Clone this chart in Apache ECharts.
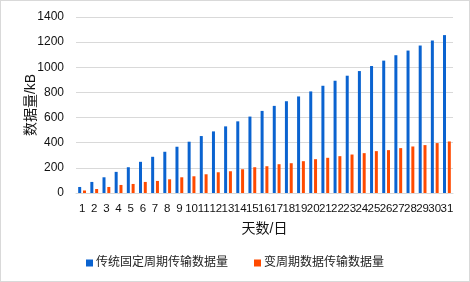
<!DOCTYPE html>
<html><head><meta charset="utf-8">
<script src="https://cdn.jsdelivr.net/npm/echarts@6/dist/echarts.min.js"></script>
<style>
html,body{margin:0;padding:0;background:#fff;}
#c{width:468px;height:280px;border:1px solid #d9d9d9;}
</style></head>
<body><div id="c"></div>
<script>
const days = Array.from({length:31},(_,i)=>String(i+1));
const fixedPeriod = [48,88,125,168,205,248,288,328,368,408,453,490,530,570,608,653,693,730,768,808,853,893,933,970,1010,1053,1096,1133,1173,1213,1256];
const variablePeriod = [20,32,48,64,72,88,96,109,125,133,149,165,173,189,205,213,229,237,253,269,280,293,306,317,333,341,357,370,381,397,410];
const yTicks = [0,200,400,600,800,1000,1200,1400];
const seriesNames = ['传统固定周期传输数据量','变周期数据传输数据量'];
const font = '"Liberation Sans", Arial, "Noto Sans CJK SC", sans-serif';
const chart = echarts.init(document.getElementById('c'));
chart.setOption({
  animation:false,
  textStyle:{fontFamily:font},
  grid:{left:75,right:16,top:16,bottom:88},
  legend:{bottom:7,left:'center',itemWidth:7,itemHeight:7,itemGap:26,itemStyle:{borderWidth:0},icon:'rect',
    textStyle:{fontSize:12,color:'#222',fontFamily:font,padding:[0,0,0,-2]},data:seriesNames},
  xAxis:{type:'category',data:days,name:'天数/日',nameLocation:'middle',nameGap:29,
    nameTextStyle:{fontSize:14,color:'#111',fontFamily:font},
    axisLine:{show:true,lineStyle:{color:'#d9d9d9'}},axisTick:{show:false},
    axisLabel:{interval:0,fontSize:11.5,color:'#111',margin:10,fontFamily:font}},
  yAxis:{type:'value',min:yTicks[0],max:yTicks[yTicks.length-1],interval:200,
    name:'数据量/kB',nameLocation:'middle',nameGap:38,nameRotate:90,nameMoveOverlap:false,
    nameTextStyle:{fontSize:14,color:'#111',fontFamily:font},
    axisLine:{show:false},axisTick:{show:false},
    axisLabel:{fontSize:12,color:'#111',margin:12,fontFamily:font,formatter:v=>String(v)},
    splitLine:{lineStyle:{color:'#d9d9d9',width:1}}},
  series:[
    {name:seriesNames[0],type:'bar',data:fixedPeriod,barWidth:3,barGap:'60%',
      itemStyle:{color:'#0a63d0'}},
    {name:seriesNames[1],type:'bar',data:variablePeriod,barWidth:3,
      itemStyle:{color:'#ff4a00'}}
  ]
});
</script></body></html>
